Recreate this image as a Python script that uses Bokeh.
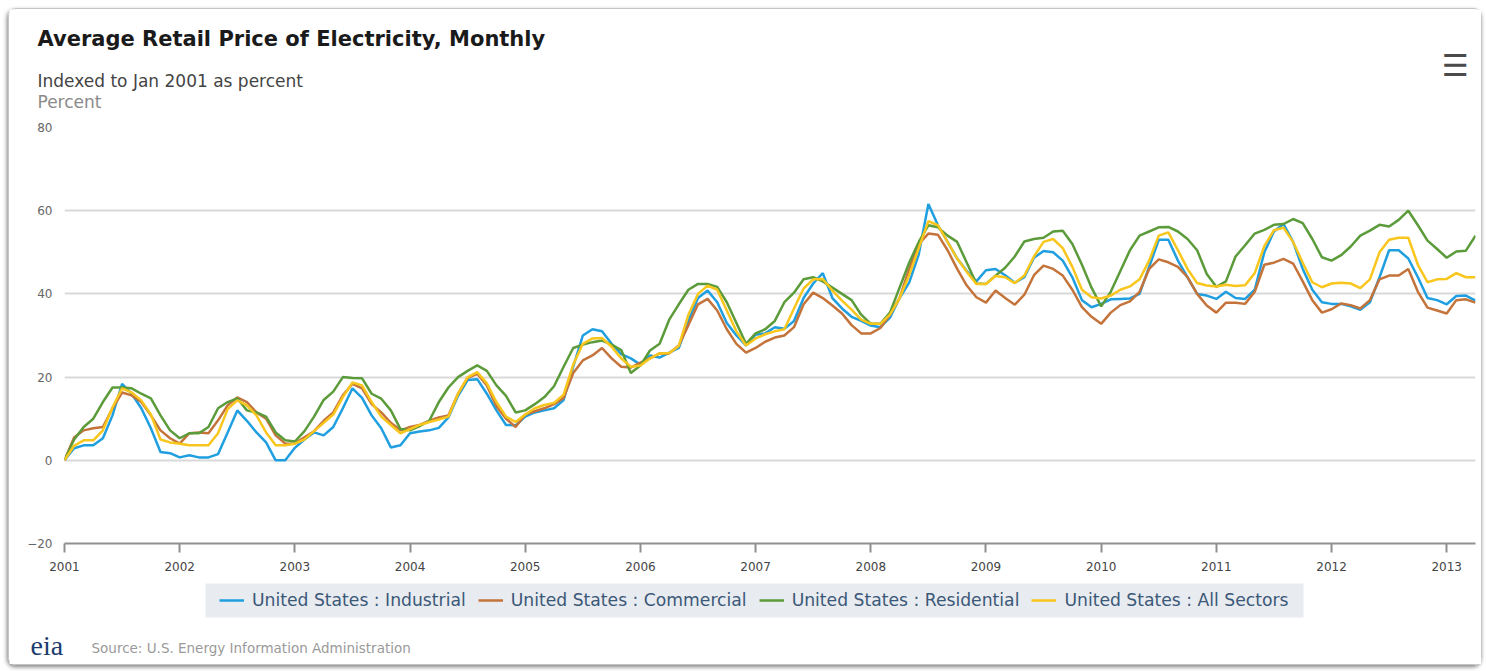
from bokeh.plotting import figure
from bokeh.layouts import column
from bokeh.models import (Range1d, FixedTicker, Legend, LegendItem, Label,
                          ColumnDataSource, BoxAnnotation)
from bokeh.embed import file_html
from bokeh.resources import INLINE

# ---------------- data (percent change vs Jan 2001, monthly Jan 2001 .. Apr 2013)
years = ["2001", "2002", "2003", "2004", "2005", "2006", "2007",
         "2008", "2009", "2010", "2011", "2012", "2013"]

industrial = [
    0, 2.9, 3.6, 3.6, 5.3, 10.8, 18.4, 16.0, 12.5, 7.7, 2.0, 1.7,
    0.7, 1.2, 0.7, 0.7, 1.5, 6.7, 12.0, 9.5, 6.7, 4.3, 0.0, 0.0,
    3.0, 5.0, 6.7, 6.0, 8.0, 12.5, 17.3, 15.0, 10.8, 7.7, 3.1, 3.6,
    6.5, 6.9, 7.2, 7.8, 10.3, 15.5, 19.3, 19.5, 16.0, 12.0, 8.5, 8.4,
    10.5, 11.5, 12.0, 12.5, 14.5, 22.5, 30.0, 31.5, 31.0, 28.0, 25.5, 24.5,
    23.0, 25.2, 24.7, 25.9, 27.0, 33.5, 39.0, 40.8, 38.0, 33.0, 30.0, 27.6,
    30.2, 30.5, 32.0, 31.6, 33.5, 39.0, 42.5, 45.0, 39.0, 36.5, 34.5, 33.5,
    32.4, 32.0, 34.3, 39.0, 42.7, 49.5, 61.6, 56.5, 52.5, 48.5, 45.5, 43.0,
    45.7, 46.0, 44.5, 42.7, 44.0, 48.7, 50.3, 50.0, 48.0, 44.0, 38.5, 36.8,
    37.6, 38.7, 38.8, 38.9, 40.0, 46.5, 53.0, 53.0, 48.0, 44.0, 40.0, 39.6,
    38.8, 40.5, 39.0, 38.8, 41.0, 50.0, 55.0, 56.8, 52.5, 46.0, 41.0, 38.0,
    37.6, 37.6, 37.0, 36.2, 38.0, 44.0, 50.5, 50.5, 48.5, 44.0, 39.0, 38.5,
    37.5, 39.5, 39.6, 38.4,
]

commercial = [
    0, 5.5, 7.2, 7.7, 8.0, 12.5, 16.3, 15.6, 14.0, 10.8, 7.2, 5.3,
    4.0, 6.5, 6.7, 6.5, 9.6, 13.2, 15.1, 14.0, 11.5, 10.0, 6.0, 4.0,
    4.0, 5.5, 7.0, 9.5, 11.5, 15.6, 18.4, 17.3, 13.5, 11.5, 9.0, 7.2,
    8.0, 8.5, 9.5, 10.3, 10.8, 16.0, 19.8, 20.8, 18.0, 13.0, 10.0, 8.0,
    11.0, 11.8, 12.5, 13.5, 15.0, 21.0, 24.0, 25.2, 27.0, 24.5, 22.5, 22.3,
    23.5, 24.5, 25.7, 25.7, 27.6, 32.5, 37.5, 38.8, 36.0, 31.5, 28.0, 25.9,
    27.0, 28.5, 29.5, 30.0, 32.0, 37.5, 40.3, 39.0, 37.2, 35.3, 32.5, 30.5,
    30.5, 31.8, 35.0, 39.0, 46.0, 52.0, 54.5, 54.2, 50.5, 46.0, 42.0, 39.2,
    37.9, 40.8, 39.0, 37.4, 39.8, 44.5, 46.8, 46.0, 44.4, 41.0, 36.8, 34.5,
    32.8, 35.5, 37.3, 38.2, 40.5, 46.0, 48.3, 47.6, 46.5, 44.0, 40.0, 37.2,
    35.5, 37.9, 37.9, 37.6, 40.5, 47.0, 47.5, 48.4, 47.3, 43.0, 38.5, 35.5,
    36.3, 37.7, 37.3, 36.5, 38.5, 43.5, 44.4, 44.4, 46.0, 40.5, 36.7, 36.0,
    35.3, 38.5, 38.7, 37.9,
]

residential = [
    0, 5.0, 8.0, 10.0, 14.0, 17.5, 17.5, 17.3, 16.0, 14.9, 10.8, 7.2,
    5.3, 6.5, 6.5, 8.0, 12.5, 14.0, 14.9, 12.0, 11.5, 10.5, 6.7, 4.8,
    4.5, 7.0, 10.5, 14.5, 16.5, 20.0, 19.8, 19.7, 16.0, 14.8, 12.0, 7.5,
    7.2, 8.2, 9.5, 14.0, 17.5, 20.0, 21.5, 22.8, 21.5, 18.0, 15.5, 11.5,
    12.0, 13.5, 15.2, 17.8, 22.5, 27.0, 27.8, 28.4, 28.8, 27.8, 26.5, 21.0,
    22.8, 26.4, 28.0, 33.8, 37.5, 41.0, 42.4, 42.4, 41.7, 38.0, 33.0, 28.0,
    30.5, 31.5, 33.5, 38.0, 40.3, 43.5, 44.0, 43.0, 41.5, 40.0, 38.5, 35.0,
    32.8, 32.8, 35.5, 41.5, 47.5, 52.5, 56.5, 56.0, 54.0, 52.5, 47.5, 42.5,
    42.4, 44.4, 46.3, 49.0, 52.6, 53.2, 53.5, 55.0, 55.2, 52.0, 47.0, 41.5,
    37.0, 40.5, 45.5, 50.5, 54.0, 55.0, 56.0, 56.1, 55.0, 53.2, 50.5, 44.8,
    41.7, 43.0, 49.0, 51.7, 54.5, 55.4, 56.6, 56.8, 58.0, 57.0, 53.2, 48.8,
    48.0, 49.3, 51.4, 54.0, 55.2, 56.6, 56.2, 57.8, 60.0, 56.5, 52.8, 50.8,
    48.7, 50.2, 50.4, 54.0,
]

all_sectors = [
    0, 3.5, 4.8, 4.8, 7.2, 12.7, 17.3, 16.3, 14.4, 11.0, 5.0, 4.3,
    4.0, 3.6, 3.6, 3.6, 6.5, 12.3, 14.4, 13.2, 10.8, 6.7, 3.6, 3.6,
    4.0, 5.0, 7.0, 9.0, 11.0, 15.2, 18.7, 18.0, 14.0, 10.5, 8.5, 6.5,
    7.5, 8.5, 9.2, 9.8, 10.5, 16.0, 20.0, 21.2, 18.5, 14.0, 10.5, 9.2,
    11.0, 12.5, 13.3, 13.8, 15.8, 23.0, 28.0, 29.3, 29.4, 27.3, 24.5, 22.5,
    22.8, 24.5, 25.7, 25.8, 27.5, 35.0, 40.0, 42.0, 41.0, 36.0, 31.0, 27.6,
    29.3, 30.3, 31.0, 31.5, 36.5, 41.3, 43.5, 43.6, 40.8, 38.4, 36.2, 33.8,
    32.8, 32.8, 35.0, 39.0, 44.5, 51.0, 57.5, 56.5, 52.5, 48.5, 45.3, 42.4,
    42.4, 44.3, 44.0, 42.6, 44.4, 49.0, 52.5, 53.2, 51.0, 46.5, 41.0, 39.2,
    38.9, 39.6, 41.0, 41.8, 43.5, 48.0, 54.0, 54.8, 50.5, 46.0, 42.6, 42.0,
    41.8, 42.2, 41.9, 42.1, 45.0, 51.5, 55.3, 55.9, 52.5, 47.5, 42.8, 41.6,
    42.5, 42.7, 42.5, 41.4, 43.5, 50.0, 53.0, 53.5, 53.5, 47.0, 42.8, 43.5,
    43.6, 45.0, 44.0, 44.0,
]

series_names = ["United States : Industrial", "United States : Commercial",
                "United States : Residential", "United States : All Sectors"]
series_colors = ["#1f9fe0", "#c4733a", "#5b9b3a", "#f8c61c"]

months = list(range(len(industrial)))
src = ColumnDataSource(dict(m=months, ind=industrial, com=commercial,
                            res=residential, all=all_sectors))

FONT = "DejaVu Sans"
W = 1472
H_HEAD, H_MAIN, H_FOOT = 108, 463, 84


def blank(h):
    f = figure(width=W, height=h, output_backend="svg", toolbar_location=None,
               x_range=Range1d(0, W), y_range=Range1d(h, 0),
               x_axis_location=None, y_axis_location=None,
               min_border=0, min_border_left=0, min_border_right=0,
               min_border_top=0, min_border_bottom=0)
    f.frame_align = False
    f.outline_line_color = None
    f.background_fill_color = "white"
    f.border_fill_color = "white"
    f.xgrid.visible = False
    f.ygrid.visible = False
    return f


def lab(f, x, y, text, size, color, style="normal", font=FONT, align="left"):
    f.add_layout(Label(x=x, y=y, text=text, text_font=font, text_font_size=size,
                       text_color=color, text_font_style=style,
                       text_baseline="middle", text_align=align))


# ---------------- header (title, subtitle, axis title, menu icon)
head = blank(H_HEAD)
lab(head, 28, 29, "Average Retail Price of Electricity, Monthly", "21px", "#1a1a1a", "bold")
lab(head, 28, 71, "Indexed to Jan 2001 as percent", "17px", "#444444")
lab(head, 28, 92, "Percent", "17px", "#8a8a8a")
lab(head, 1446, 56, "\u2630", "30px", "#4a4a4a", "bold", align="center")

# ---------------- main chart
p = figure(width=W, height=H_MAIN, output_backend="svg", toolbar_location=None,
           x_range=Range1d(0, len(months) - 1), y_range=Range1d(-20, 80),
           min_border_left=55, min_border_right=6, min_border_top=10,
           min_border_bottom=37)
p.frame_align = False
p.outline_line_color = None
p.background_fill_color = "white"
p.border_fill_color = "white"

p.xaxis.ticker = FixedTicker(ticks=[12 * i for i in range(len(years))])
p.xaxis.major_label_overrides = {12 * i: y for i, y in enumerate(years)}
p.xaxis.axis_line_color = "#8f8f8f"
p.xaxis.axis_line_width = 2
p.xaxis.major_tick_line_color = "#8f8f8f"
p.xaxis.major_tick_line_width = 2
p.xaxis.major_tick_in = 0
p.xaxis.major_tick_out = 9
p.xaxis.minor_tick_line_color = None
p.xaxis.major_label_text_font = FONT
p.xaxis.major_label_text_font_size = "12px"
p.xaxis.major_label_text_color = "#444444"
p.xaxis.major_label_standoff = 9

p.yaxis.ticker = FixedTicker(ticks=[-20, 0, 20, 40, 60, 80])
p.yaxis.axis_line_color = None
p.yaxis.major_tick_line_color = None
p.yaxis.minor_tick_line_color = None
p.yaxis.major_label_text_font = FONT
p.yaxis.major_label_text_font_size = "12px"
p.yaxis.major_label_text_color = "#666666"
p.yaxis.major_label_standoff = 6

p.xgrid.grid_line_color = None
p.ygrid.grid_line_color = "#d9d9d9"
p.ygrid.grid_line_width = 2

for c, col in zip(["ind", "com", "res", "all"], series_colors):
    p.line("m", c, source=src, line_color=col, line_width=2.5)

# ---------------- footer (legend, source)
foot = blank(H_FOOT)
foot.add_layout(BoxAnnotation(left=196, right=1294, top=3, bottom=37,
                              fill_color="#e8ebef", fill_alpha=1,
                              line_color=None, level="underlay"))
nan = float("nan")
legend_renderers = [foot.line(x=[nan], y=[nan], line_color=col, line_width=2.5)
                    for col in series_colors]
legend = Legend(items=[LegendItem(label=n, renderers=[r])
                       for n, r in zip(series_names, legend_renderers)],
                orientation="horizontal", location=(210, 54))
legend.background_fill_alpha = 0
legend.border_line_color = None
legend.label_text_font = FONT
legend.label_text_font_size = "17.2px"
legend.label_text_color = "#3b5878"
legend.glyph_width = 25
legend.glyph_height = 20
legend.label_height = 20
legend.label_standoff = 8
legend.spacing = 12
legend.padding = 0
legend.margin = 0
foot.add_layout(legend, "center")

lab(foot, 82, 67, "Source: U.S. Energy Information Administration", "13.5px", "#9a9a9a")
lab(foot, 21, 65, "eia", "28px", "#1d3c6e", font="Liberation Serif")

layout = column(head, p, foot, spacing=0,
                styles={"margin": "8px", "border": "1px solid #c4c4c4",
                        "border-radius": "8px",
                        "box-shadow": "-1px 2px 4px rgba(0,0,0,0.5)"})

open("out.html", "w").write(file_html(layout, INLINE))
